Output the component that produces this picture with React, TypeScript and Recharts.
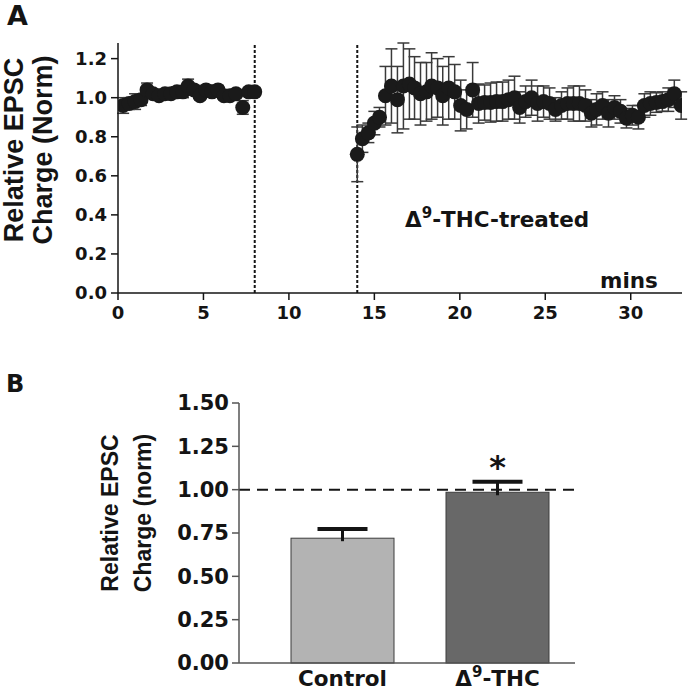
import React from 'react';
import { Bar, BarChart, ErrorBar, ReferenceLine, Scatter, ScatterChart, XAxis, YAxis } from 'recharts';

// panel A: baseline sweeps (min) and normalised charge
const BASE_TIME = [0.3, 0.65, 1.0, 1.35, 1.7, 2.05, 2.4, 2.75, 3.1, 3.45, 3.8, 4.1, 4.45, 4.8, 5.15, 5.5, 5.85, 6.2, 6.55, 6.9, 7.3, 7.65, 8.0];
const BASE_CHARGE = [0.96, 0.97, 0.98, 0.99, 1.04, 1.02, 1.01, 1.02, 1.02, 1.03, 1.03, 1.06, 1.04, 1.01, 1.04, 1.03, 1.04, 1.01, 1.01, 1.02, 0.95, 1.03, 1.03];
const BASE_SEM = [0.04, 0.03, 0.04, 0.03, 0.035, 0.02, 0.02, 0.02, 0.02, 0.025, 0.03, 0.035, 0.02, 0.02, 0.02, 0.02, 0.02, 0.02, 0.02, 0.02, 0.035, 0.02, 0.02];

// panel A: after Δ9-THC treatment
const THC_TIME = [
  14.0, 14.3, 14.65, 15.0, 15.3, 15.65, 16.0, 16.35, 16.7, 17.05, 17.35, 17.7, 18.05, 18.35, 18.7, 19.0, 19.35, 19.7,
  20.05, 20.4, 20.75, 21.1, 21.45, 21.8, 22.15, 22.5, 22.85, 23.2, 23.5, 23.85, 24.2, 24.55, 24.9, 25.25, 25.6, 25.95,
  26.3, 26.65, 27.0, 27.35, 27.7, 28.0, 28.35, 28.7, 29.05, 29.4, 29.75, 30.1, 30.45, 30.8, 31.15, 31.5, 31.85, 32.2,
  32.55, 32.95,
];
const THC_CHARGE = [
  0.71, 0.79, 0.82, 0.87, 0.9, 1.01, 1.06, 0.99, 1.06, 1.07, 1.05, 1.02, 1.03, 1.06, 1.05, 1.01, 1.05, 1.03,
  0.96, 0.94, 1.04, 0.97, 0.975, 0.975, 0.98, 0.98, 0.99, 1.0, 0.95, 0.98, 1.0, 0.97, 0.98, 0.97, 0.94, 0.96,
  0.97, 0.97, 0.97, 0.96, 0.92, 0.94, 0.96, 0.92, 0.95, 0.93, 0.895, 0.91, 0.9, 0.96, 0.97, 0.975, 0.98, 0.99,
  1.02, 0.96,
];
const THC_SEM = [
  0.14, 0.07, 0.05, 0.06, 0.05, 0.15, 0.19, 0.17, 0.22, 0.18, 0.16, 0.16, 0.15, 0.17, 0.15, 0.15, 0.16, 0.14,
  0.13, 0.1, 0.14, 0.1, 0.09, 0.1, 0.1, 0.1, 0.1, 0.11, 0.08, 0.08, 0.09, 0.09, 0.08, 0.08, 0.06, 0.07,
  0.08, 0.09, 0.09, 0.08, 0.07, 0.08, 0.07, 0.07, 0.06, 0.06, 0.05, 0.05, 0.06, 0.06, 0.06, 0.05, 0.05, 0.06,
  0.07, 0.07,
];
const TIME_TICKS = [0, 5, 10, 15, 20, 25, 30];
const CHARGE_TICKS_A = [0, 0.2, 0.4, 0.6, 0.8, 1.0, 1.2];
const WASH_MARKS = [8, 14];

// panel B
const GROUPS = ['Control', 'Δ9-THC'];
const GROUP_MEAN = [0.72, 0.985];
const GROUP_SEM = [0.053, 0.06];
const GROUP_SIGNIF = ['', '*'];
const CHARGE_TICKS_B = [0, 0.25, 0.5, 0.75, 1, 1.25, 1.5];

const GROUP_FILL = ['#b3b3b3', '#686868'];
const INK = '#141414';
const WIDE = "'DejaVu Sans', Verdana, sans-serif";
const NARROW = "'Liberation Sans', Arial, sans-serif";

const toPoints = (time: number[], charge: number[], sem: number[]) =>
  time.map((t, i) => ({ t, charge: charge[i], sem: sem[i] }));

const baseRows = toPoints(BASE_TIME, BASE_CHARGE, BASE_SEM);
const thcRows = toPoints(THC_TIME, THC_CHARGE, THC_SEM);
const groupRows = GROUPS.map((name, i) => ({
  name,
  mean: GROUP_MEAN[i],
  sem: GROUP_SEM[i],
  signif: GROUP_SIGNIF[i],
  fill: GROUP_FILL[i],
}));

const tickA = { fontFamily: WIDE, fontSize: 18, fontWeight: 'bold', fill: INK };
const tickB = { fontFamily: WIDE, fontSize: 21, fontWeight: 'bold', fill: INK };

const Dot = (p: any) => <circle cx={p.cx} cy={p.cy} r={7.5} fill="#1a1a1a" />;

// Δ followed by a superscript digit
function DeltaText({ text, size, sup }: { text: string; size: number; sup: number }) {
  const m = text.match(/^Δ(\d)(.*)$/);
  if (!m) return <>{text}</>;
  return (
    <>
      Δ
      <tspan dy={-sup} fontSize={size * 0.7}>
        {m[1]}
      </tspan>
      <tspan dy={sup}>{m[2]}</tspan>
    </>
  );
}

function GroupTick({ x, y, payload }: any) {
  return (
    <text x={x} y={y} dy={15} textAnchor="middle" fontFamily={WIDE} fontSize={21.5} fontWeight="bold" fill={INK}>
      <DeltaText text={String(payload.value)} size={21.5} sup={9} />
    </text>
  );
}

function GroupBar(props: any) {
  const { x, y, width, height, payload } = props;
  const perUnit = height / payload.mean;
  const capY = y - payload.sem * perUnit;
  const cx = x + width / 2;
  return (
    <g>
      <rect x={x} y={y} width={width} height={height} fill={payload.fill} stroke="#3c3c3c" strokeWidth={1} />
      <line x1={cx} x2={cx} y1={capY} y2={y + 3} stroke={INK} strokeWidth={3} />
      <line x1={cx - 25} x2={cx + 25} y1={capY} y2={capY} stroke={INK} strokeWidth={4} />
      {payload.signif ? (
        <text x={cx} y={capY - 4} textAnchor="middle" fontFamily={WIDE} fontSize={32} fontWeight="bold" fill={INK}>
          {payload.signif}
        </text>
      ) : null}
    </g>
  );
}

export default function App() {
  return (
    <div style={{ position: 'absolute', left: 0, top: 0, width: 690, height: 700, background: '#fff' }}>
      <div style={{ position: 'absolute', left: 0, top: 0 }}>
        <ScatterChart width={690} height={330} margin={{ top: 43, right: 8, bottom: 0, left: 0 }}>
          <XAxis
            type="number"
            dataKey="t"
            domain={[0, 33]}
            ticks={TIME_TICKS}
            height={37}
            tickSize={7}
            tickMargin={6}
            tick={tickA}
            axisLine={{ stroke: INK, strokeWidth: 1.5 }}
            tickLine={{ stroke: INK, strokeWidth: 1.5 }}
            allowDataOverflow
          />
          <YAxis
            type="number"
            dataKey="charge"
            domain={[0, 1.2]}
            ticks={CHARGE_TICKS_A}
            width={118}
            tickSize={7}
            tickMargin={4}
            tick={tickA}
            tickFormatter={(v: number) => v.toFixed(1)}
            axisLine={{ stroke: INK, strokeWidth: 1.5 }}
            tickLine={{ stroke: INK, strokeWidth: 1.5 }}
          />
          {WASH_MARKS.map((m) => (
            <ReferenceLine key={m} x={m} stroke={INK} strokeWidth={2} strokeDasharray="3 2" />
          ))}
          <Scatter data={baseRows} dataKey="charge" shape={Dot} isAnimationActive={false}>
            <ErrorBar dataKey="sem" direction="y" width={6} stroke="#3a3a3a" strokeWidth={1.5} />
          </Scatter>
          <Scatter data={thcRows} dataKey="charge" shape={Dot} isAnimationActive={false}>
            <ErrorBar dataKey="sem" direction="y" width={6} stroke="#3a3a3a" strokeWidth={1.5} />
          </Scatter>
        </ScatterChart>
      </div>

      <div style={{ position: 'absolute', left: 0, top: 360 }}>
        <BarChart width={690} height={340} data={groupRows} margin={{ top: 43, right: 115, bottom: 0, left: 0 }}>
          <XAxis
            dataKey="name"
            height={37}
            padding={{ left: 26, right: 0 }}
            tickLine={false}
            tick={<GroupTick />}
            axisLine={{ stroke: '#555', strokeWidth: 1.5 }}
            interval={0}
          />
          <YAxis
            domain={[0, 1.5]}
            ticks={CHARGE_TICKS_B}
            width={239}
            tickSize={7}
            tickMargin={3}
            tick={tickB}
            tickFormatter={(v: number) => v.toFixed(2)}
            axisLine={{ stroke: '#555', strokeWidth: 1.5 }}
            tickLine={{ stroke: '#555', strokeWidth: 1.5 }}
          />
          <Bar dataKey="mean" barSize={103} shape={<GroupBar />} isAnimationActive={false} />
          <ReferenceLine y={1} stroke={INK} strokeWidth={2} strokeDasharray="11 7" />
        </BarChart>
      </div>

      <svg width={690} height={700} style={{ position: 'absolute', left: 0, top: 0, pointerEvents: 'none' }}>
        <text x={7} y={25} fontFamily={WIDE} fontSize={27} fontWeight="bold" fill={INK}>
          A
        </text>
        <text x={6} y={392} fontFamily={WIDE} fontSize={24} fontWeight="bold" fill={INK}>
          B
        </text>
        <g fontFamily={NARROW} fontWeight="bold" fill={INK} textAnchor="middle">
          <text x={23} y={150} fontSize={27} transform="rotate(-90 23 150)">
            Relative EPSC
          </text>
          <text x={52} y={150} fontSize={27} transform="rotate(-90 52 150)">
            Charge (Norm)
          </text>
          <text x={118} y={513} fontSize={23} transform="rotate(-90 118 513)">
            Relative EPSC
          </text>
          <text x={151} y={513} fontSize={23} transform="rotate(-90 151 513)">
            Charge (norm)
          </text>
        </g>
        <g fontFamily={WIDE} fontWeight="bold" fill={INK} fontSize={21.5}>
          <text x={405} y={227}>
            <DeltaText text="Δ9-THC-treated" size={21.5} sup={9} />
          </text>
          <text x={600} y={288}>
            mins
          </text>
        </g>
      </svg>
    </div>
  );
}
